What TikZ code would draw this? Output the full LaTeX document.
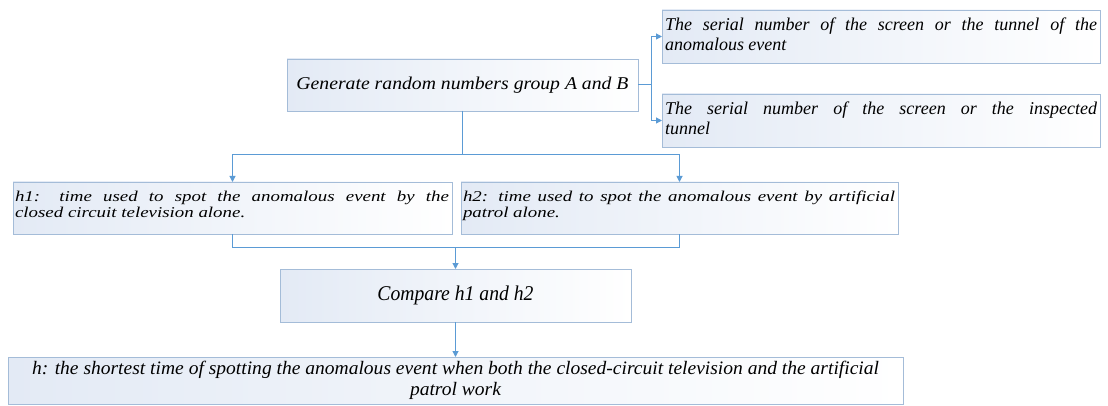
\documentclass[tikz,border=0pt]{standalone}
\usepackage{fontspec}
\setmainfont{Liberation Serif}[ItalicFont=Liberation Serif Italic]
\newfontfamily\hfont{Liberation Serif}[ItalicFont=Liberation Serif Italic,FakeStretch=1.26]
\newfontfamily\cfont{Liberation Serif}[ItalicFont=Liberation Serif Italic,FakeStretch=0.9]
\usetikzlibrary{arrows.meta,calc}
\definecolor{connblue}{HTML}{5B9BD5}
\definecolor{boxedge}{HTML}{A4BCD8}
\definecolor{boxleft}{HTML}{E3EAF5}
\newlength\fitlen
\newcommand\fitline[2]{\settowidth\fitlen{#2}\ifdim\fitlen>#1\relax\resizebox{#1}{\height}{#2}\else\makebox[#1][s]{#2}\fi}
\newcommand\hlineone{h: the shortest time of spotting the anomalous event when both the closed-circuit television and the artificial}
\tikzset{
  box/.style={draw=boxedge, line width=0.8pt, left color=boxleft, right color=white, anchor=north west, inner sep=0pt, outer sep=0pt},
  arrowline/.style={draw=connblue, line width=1pt, -{Triangle[length=6pt,width=6pt]}},
  plainline/.style={draw=connblue, line width=1pt},
}
\begin{document}
\settowidth\fitlen{\cfont\fontsize{19}{21}\selectfont\itshape\hlineone}%
\pgfmathsetmacro\hsx{847/\fitlen}%
\begin{tikzpicture}[x=1pt,y=-1pt]
\fill[white] (0,0) rectangle (1108,406);
\useasboundingbox (0,0) rectangle (1108,406);

\node[box, minimum width=351pt, minimum height=52pt] (gen) at (287,59)
  {\fontsize{18}{20}\selectfont\itshape\resizebox{332pt}{\height}{Generate random numbers group A and B}};

\node[box] (r1) at (662,10) {\parbox[t][53pt][t]{438pt}{\fontsize{18}{20}\selectfont\itshape\lineskiplimit=-\maxdimen
  \hspace*{3pt}\rule{0pt}{21pt}\fitline{432pt}{The serial number of the screen or the tunnel of the}\par
  \hspace*{3pt}anomalous event}};

\node[box] (r2) at (662,94) {\parbox[t][53pt][t]{438pt}{\fontsize{18}{20}\selectfont\itshape\lineskiplimit=-\maxdimen
  \hspace*{3pt}\rule{0pt}{21pt}\fitline{432pt}{The serial number  of  the screen  or  the inspected}\par
  \hspace*{3pt}tunnel}};

\node[box] (h1) at (13,182) {\parbox[t][52pt][t]{439pt}{\hfont\fontsize{15}{16.8}\selectfont\itshape\lineskiplimit=-\maxdimen
  \hspace*{2pt}\rule{0pt}{19pt}\fitline{434pt}{h1: time used to spot the anomalous event by the}\par
  \hspace*{2pt}closed circuit television alone.}};

\node[box] (h2) at (461,182) {\parbox[t][52pt][t]{437pt}{\hfont\fontsize{15}{16.8}\selectfont\itshape\lineskiplimit=-\maxdimen
  \hspace*{2pt}\rule{0pt}{19pt}\fitline{432pt}{h2: time used to spot the anomalous event by artificial}\par
  \hspace*{2pt}patrol alone.}};

\node[box, minimum width=351pt, minimum height=53pt] (cmp) at (280,269)
  {\fontsize{21}{24}\selectfont\itshape\resizebox{156pt}{\height}{Compare h1 and h2}};

\node[box] (hh) at (8,357) {\parbox[t][47pt][t]{895pt}{\centering\cfont\fontsize{19}{21}\selectfont\itshape\lineskiplimit=-\maxdimen
  \rule{0pt}{17pt}\scalebox{\hsx}[1]{\hlineone}\par
  \scalebox{\hsx}[1]{patrol work}\par}};

\draw[arrowline] (gen.east) -- ++(13,0) |- (r1.west);
\draw[arrowline] (gen.east) -- ++(13,0) |- (r2.west);
\draw[arrowline] (gen.south) -- ++(0,44) -| (h1.north);
\draw[arrowline] (gen.south) -- ++(0,44) -| (h2.north);
\draw[plainline] (h1.south) -- ++(0,13) -| (h2.south);
\coordinate (join) at ($(h1.south)+(0,13)$);
\draw[arrowline] (join -| cmp.north) -- (cmp.north);
\draw[arrowline] (cmp.south) -- (hh.north);
\end{tikzpicture}
\end{document}
